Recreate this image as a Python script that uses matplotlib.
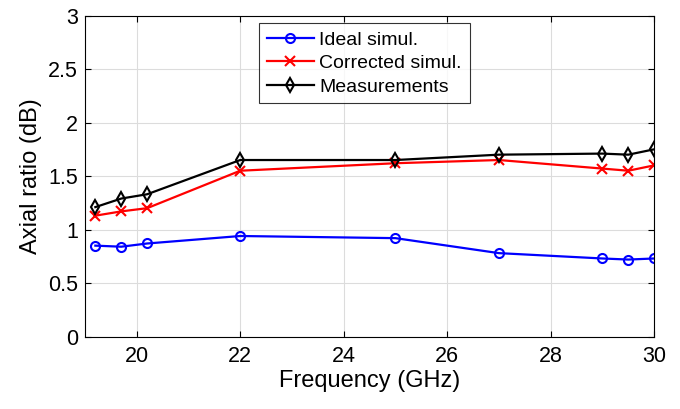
import matplotlib.pyplot as plt
import numpy as np

plt.rcParams['font.family'] = ['Liberation Sans', 'DejaVu Sans']

# frequency points (GHz)
freq = [19.2, 19.7, 20.2, 22, 25, 27, 29, 29.5, 30]

# axial ratio (dB)
ideal = [0.85, 0.84, 0.87, 0.94, 0.92, 0.78, 0.73, 0.72, 0.73]
corrected = [1.13, 1.17, 1.20, 1.55, 1.62, 1.65, 1.57, 1.55, 1.60]
measured = [1.21, 1.29, 1.33, 1.65, 1.65, 1.70, 1.71, 1.70, 1.75]

fig = plt.figure(figsize=(6.8, 4.09), dpi=100)
ax = fig.add_axes([0.125, 0.177, 0.837, 0.785])

ax.plot(freq, ideal, color='#0000ff', marker='o', markersize=6.5, mfc='none',
        mew=1.5, lw=1.6, label='Ideal simul.')
ax.plot(freq, corrected, color='#ff0000', marker='x', markersize=6.5,
        mew=1.5, lw=1.6, label='Corrected simul.')
ax.plot(freq, measured, color='black', marker='d', markersize=7, mfc='none',
        mew=1.5, lw=1.6, label='Measurements')

ax.set_xlim(19, 30)
ax.set_ylim(0, 3)
ax.set_xticks([20, 22, 24, 26, 28, 30])
ax.set_yticks([0, 0.5, 1, 1.5, 2, 2.5, 3])
ax.set_yticklabels(['0', '0.5', '1', '1.5', '2', '2.5', '3'])
ax.grid(True, color='#dcdcdc', lw=0.8)
ax.set_axisbelow(True)
ax.tick_params(direction='in', labelsize=15.5, length=4, pad=5,
               top=True, right=True)
ax.tick_params(axis='x', pad=7)
for s in ax.spines.values():
    s.set_linewidth(0.8)

ax.set_xlabel('Frequency (GHz)', fontsize=17, labelpad=2)
ax.set_ylabel('Axial ratio (dB)', fontsize=17, labelpad=4)

leg = ax.legend(loc='upper center', bbox_to_anchor=(0.491, 1.0), fontsize=14,
                frameon=True, fancybox=False, edgecolor='black',
                handlelength=2.4, handletextpad=0.3, borderpad=0.4,
                labelspacing=0.3, borderaxespad=0.4)
leg.get_frame().set_linewidth(0.8)

fig.savefig('out.png', dpi=100)
